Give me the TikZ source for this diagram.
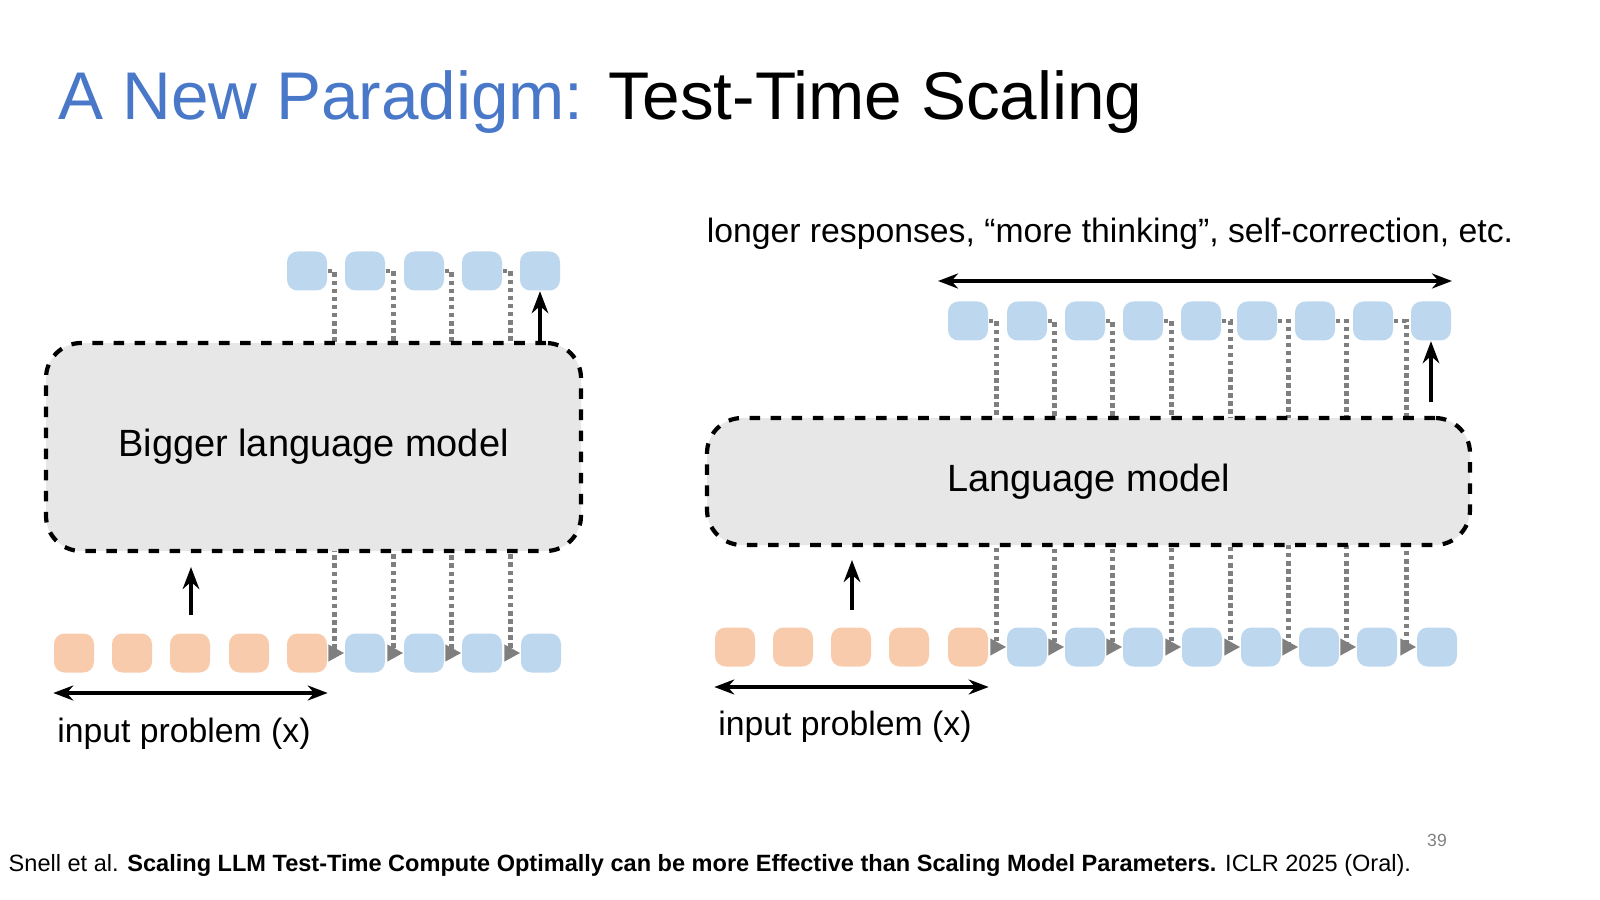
\documentclass[tikz,border=0pt]{standalone}
\usepackage{fontspec}
\setmainfont{Liberation Sans}
\usetikzlibrary{positioning,arrows.meta}
\definecolor{titleblue}{HTML}{4A78C8}
\definecolor{tokblue}{HTML}{BDD7EE}
\definecolor{tokorange}{HTML}{F8CBAD}
\definecolor{modelgray}{HTML}{E7E7E7}
\definecolor{linkgray}{HTML}{7F7F7F}
\begin{document}
\begin{tikzpicture}[x=0.1mm, y=-0.1mm,
  tok/.style={rounded corners=3pt, minimum width=4mm, minimum height=3.9mm, inner sep=0pt},
  outtok/.style={tok, fill=tokblue},
  intok/.style={tok, fill=tokorange},
  model/.style={draw, dashed, line width=1.2pt, fill=modelgray, rounded corners=10pt, font=\fontsize{10.8}{13}\selectfont},
  link/.style={linkgray, densely dotted, line width=1.3pt, -{Triangle[length=1.6mm,width=1.6mm]}},
  uparrow/.style={-{Stealth[length=2.2mm]}, line width=1.3pt},
  span/.style={{Stealth[length=2mm]}-{Stealth[length=2mm]}, line width=1.1pt},
  lab/.style={font=\fontsize{9.6}{11}\selectfont},
]
\useasboundingbox (0,0) rectangle (1600,900);
% title
\node[anchor=base west, inner sep=0pt, font=\fontsize{19.2}{22}\selectfont] (title) at (58,120)
  {\textcolor{titleblue}{A New Paradigm:} Test-Time Scaling};

% left: bigger model
\foreach \i/\x in {1/307,2/365,3/424,4/482,5/540}
  \node[outtok] (lo\i) at (\x,271) {};
\foreach \i/\x in {1/74,2/132,3/190,4/249,5/307}
  \node[intok] (li\i) at (\x,653) {};
\foreach \i/\x in {1/365,2/424,3/482,4/541}
  \node[outtok] (lb\i) at (\x,653) {};
\foreach \i in {1,...,4}
  \draw[link] (lo\i.east) -| ([xshift=-1mm]lb\i.west) -- (lb\i.west);
\node[model, minimum width=53.5mm, minimum height=20.8mm] (big) at (313.5,447) {Bigger language model};
\coordinate (bigin) at (191,615);
\coordinate (bigup) at (191,567);
\draw[uparrow] (bigin) -- (bigup);
\draw[uparrow] (lo5.south |- big.north) -- (lo5.south);
\draw[span] (li1.west |- 0,693) -- (li5.east |- 0,693);
\node[lab] (leftin) at (184,734) {input problem (x)};

% right: same model, longer output
\foreach \i/\x in {1/968,2/1027,3/1085,4/1143,5/1201,6/1257,7/1315,8/1373,9/1431}
  \node[outtok] (ro\i) at (\x,321) {};
\foreach \i/\x in {1/735,2/793,3/851,4/909,5/968}
  \node[intok] (ri\i) at (\x,647) {};
\foreach \i/\x in {1/1027,2/1085,3/1143,4/1202,5/1261,6/1319,7/1377,8/1437}
  \node[outtok] (rb\i) at (\x,647) {};
\foreach \i in {1,...,8}
  \draw[link] (ro\i.east) -| ([xshift=-1mm]rb\i.west) -- (rb\i.west);
\node[model, minimum width=76.3mm, minimum height=12.7mm] (small) at (1088.5,481.5) {Language model};
\coordinate (smallin) at (852,610);
\coordinate (smallup) at (852,560);
\draw[uparrow] (smallin) -- (smallup);
\coordinate (outin) at (1431,402);
\draw[uparrow] (outin) -- (ro9.south);
\draw[span] (ri1.west |- 0,687) -- (ri5.east |- 0,687);
\node[lab] (rightin) at (845,727) {input problem (x)};
\coordinate (longl) at (938,281);
\coordinate (longr) at (1452,281);
\draw[span] (longl) -- (longr);
\node[lab] (longer) at (1110,234) {longer responses, “more thinking”, self-correction, etc.};

% footer
\node[anchor=base west, inner sep=0pt, font=\fontsize{6.7}{8}\selectfont] (cite) at (8,871)
  {Snell et al. \textbf{Scaling LLM Test-Time Compute Optimally can be more Effective than Scaling Model Parameters.} ICLR 2025 (Oral).};
\node[text=gray, font=\fontsize{5}{6}\selectfont] (page) at (1437,840) {39};
\end{tikzpicture}
\end{document}
